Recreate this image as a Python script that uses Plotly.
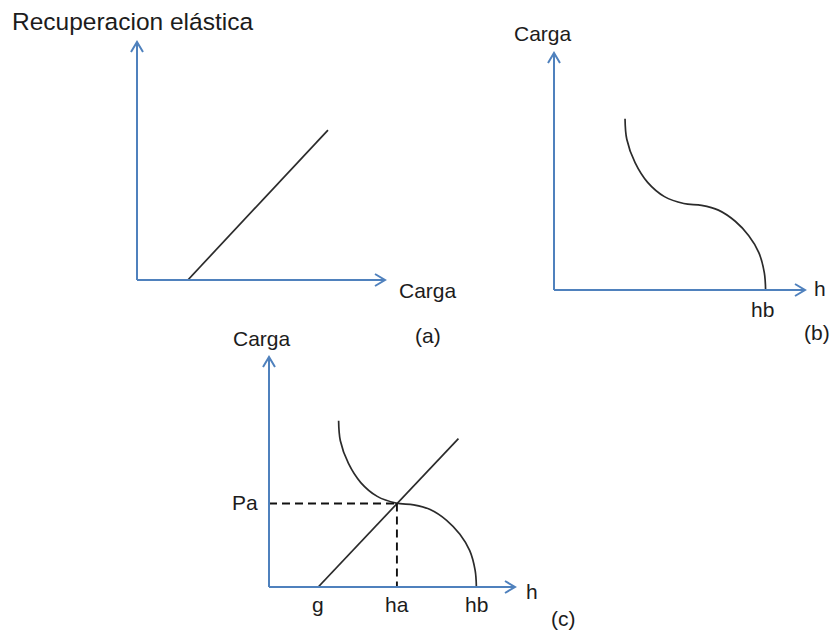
import plotly.graph_objects as go

# ---- values (arbitrary units on each small diagram) ----
# (a) elastic recovery grows linearly with load once the load passes g
recovery_load = [2.05, 7.7]
recovery_value = [0.0, 6.3]

# (b) load against h: S-shaped decreasing curve ending at hb
curve_h = [2.83, 2.90, 3.23, 3.73, 4.40, 5.17, 5.88, 6.55, 7.22, 7.76, 8.16, 8.38, 8.43]
curve_load = [7.23, 6.36, 5.37, 4.54, 3.94, 3.65, 3.57, 3.37, 2.90, 2.29, 1.58, 0.72, 0.0]

# (c) both curves together, crossing at (ha, Pa)
g = 2.0
ha = 5.2
Pa = 3.63
hb = 8.43
line_c_h = [g, 7.7]
line_c_load = [0.0, 6.45]

W, H = 835, 634
AXIS_BLUE = "#4f81bd"
INK = "#2b2b2b"
TEXT = "#1c1c1c"
FONT = "Liberation Sans, Arial, sans-serif"


def fx(px):
    return px / W


def fy(py):
    return 1 - py / H


# pixel frames of the three diagrams: (x_origin, x_tip, y_origin, y_tip)
frames = {
    "a": (137, 385, 280, 42),
    "b": (554, 805, 290, 53),
    "c": (269, 515, 587, 357),
}

fig = go.Figure()

line_style = dict(color=INK, width=1.7)

fig.add_trace(go.Scatter(x=recovery_load, y=recovery_value, mode="lines",
                         line=line_style, xaxis="x", yaxis="y"))
fig.add_trace(go.Scatter(x=curve_h, y=curve_load, mode="lines",
                         line=dict(shape="spline", smoothing=1.0, **line_style),
                         xaxis="x2", yaxis="y2"))
fig.add_trace(go.Scatter(x=line_c_h, y=line_c_load, mode="lines",
                         line=line_style, xaxis="x3", yaxis="y3"))
fig.add_trace(go.Scatter(x=curve_h, y=curve_load, mode="lines",
                         line=dict(shape="spline", smoothing=1.0, **line_style),
                         xaxis="x3", yaxis="y3"))
dash = dict(color="#111111", width=1.9, dash="8px,5px")
fig.add_trace(go.Scatter(x=[0, ha], y=[Pa, Pa], mode="lines", line=dash,
                         xaxis="x3", yaxis="y3"))
fig.add_trace(go.Scatter(x=[ha, ha], y=[Pa, 0], mode="lines", line=dash,
                         xaxis="x3", yaxis="y3"))

axis_common = dict(range=[0, 10], showgrid=False, zeroline=False,
                   showticklabels=False, ticks="", showline=False,
                   fixedrange=True)

layout_axes = {}
for i, key in enumerate(["a", "b", "c"]):
    x0, x1, y0, y1 = frames[key]
    sfx = "" if i == 0 else str(i + 1)
    layout_axes["xaxis" + sfx] = dict(domain=[fx(x0), fx(x1)],
                                      anchor="y" + sfx, **axis_common)
    layout_axes["yaxis" + sfx] = dict(domain=[fy(y0), fy(y1)],
                                      anchor="x" + sfx, **axis_common)

# axis lines with open arrow heads
shapes = []
for key, (x0, x1, y0, y1) in frames.items():
    blue = dict(color=AXIS_BLUE, width=2)
    shapes.append(dict(type="line", xref="paper", yref="paper",
                       x0=fx(x0), y0=fy(y0), x1=fx(x1), y1=fy(y0), line=blue))
    shapes.append(dict(type="line", xref="paper", yref="paper",
                       x0=fx(x0), y0=fy(y0), x1=fx(x0), y1=fy(y1), line=blue))
    # right-pointing head
    shapes.append(dict(type="path", xref="paper", yref="paper", line=blue,
                       path=f"M {fx(x1 - 10)},{fy(y0 - 6)} L {fx(x1)},{fy(y0)} "
                            f"L {fx(x1 - 10)},{fy(y0 + 6)}"))
    # up-pointing head
    shapes.append(dict(type="path", xref="paper", yref="paper", line=blue,
                       path=f"M {fx(x0 - 6)},{fy(y1 + 10)} L {fx(x0)},{fy(y1)} "
                            f"L {fx(x0 + 6)},{fy(y1 + 10)}"))


def label(text, px, py, size=21, anchor="center"):
    return dict(text=text, x=fx(px), y=fy(py), xref="paper", yref="paper",
                xanchor=anchor, yanchor="middle", showarrow=False,
                font=dict(family=FONT, size=size, color=TEXT))


annotations = [
    label("Recuperacion elástica", 10, 21, size=24.5, anchor="left"),
    label("Carga", 428, 290),
    label("(a)", 428, 335),
    label("Carga", 543, 33),
    label("h", 820, 288),
    label("(b)", 817, 333),
    label("Carga", 262, 338),
    label("h", 532, 591),
    label("(c)", 563, 618),
    label("Pa", 245, 503),
]

# value labels placed on the axes of (b) and (c)
annotations.append(dict(text="hb", x=hb, y=0, xref="x2", yref="y2", yshift=-19,
                        xshift=-3, showarrow=False,
                        font=dict(family=FONT, size=21, color=TEXT)))
for name, val in [("g", g), ("ha", ha), ("hb", hb)]:
    annotations.append(dict(text=name, x=val, y=0, xref="x3", yref="y3",
                            yshift=-17, showarrow=False,
                            font=dict(family=FONT, size=21, color=TEXT)))

fig.update_layout(
    width=W, height=H, autosize=False,
    margin=dict(l=0, r=0, t=0, b=0, pad=0),
    paper_bgcolor="white", plot_bgcolor="rgba(0,0,0,0)",
    showlegend=False,
    shapes=shapes,
    annotations=annotations,
    **layout_axes,
)

fig.write_html("out.html", config={"displayModeBar": False, "staticPlot": True})
